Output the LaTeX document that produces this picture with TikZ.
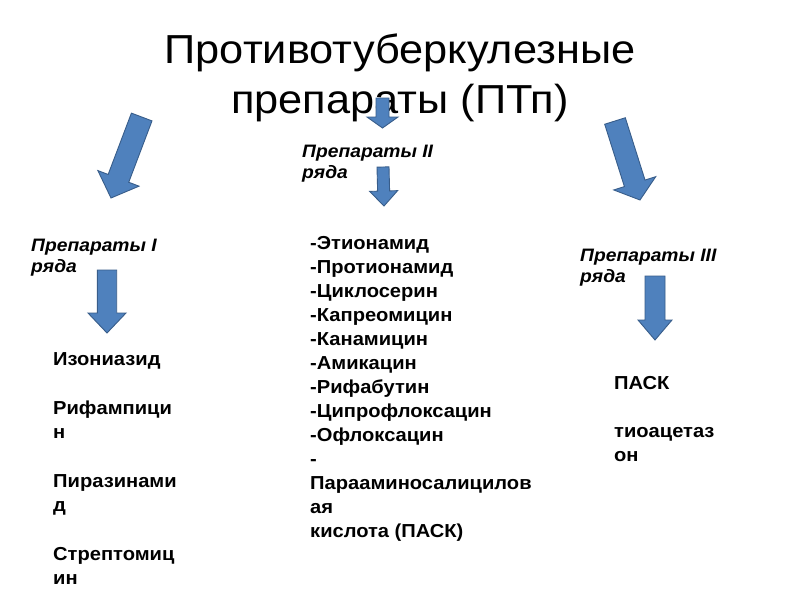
\documentclass[tikz,border=0pt]{standalone}
\usepackage{fontspec}
\setmainfont{Liberation Sans}[FakeStretch=1.07]
\usetikzlibrary{calc}
\definecolor{arrfill}{HTML}{4F81BD}
\definecolor{arrline}{HTML}{385D8A}
\newcommand\blkarrow[6]{%
  \coordinate (#6t) at #1;
  \coordinate (#6p) at #2;
  \coordinate (#6h) at ($(#6p)!#5!(#6t)$);
  \draw[blk] ($(#6t)!#3!90:(#6p)$) -- ($(#6h)!#3!90:(#6p)$) -- ($(#6h)!#4!90:(#6p)$)
    -- (#6p) -- ($(#6h)!#4!-90:(#6p)$) -- ($(#6h)!#3!-90:(#6p)$) -- ($(#6t)!#3!-90:(#6p)$) -- cycle;
}
\begin{document}
\begin{tikzpicture}[x=1pt,y=-1pt,
  blk/.style={fill=arrfill,draw=arrline,line width=0.9pt,line join=miter},
  ttl/.style={inner sep=0pt,anchor=base,font=\fontsize{40.5}{42}\selectfont},
  lbl/.style={inner sep=0pt,anchor=base west,font=\bfseries\itshape\fontsize{18}{20}\selectfont},
  item/.style={inner sep=0pt,anchor=base west,font=\bfseries\fontsize{18.8}{24}\selectfont}]
\useasboundingbox (0,0) rectangle (800,600);
\fill[white] (0,0) rectangle (800,600);
% title
\node[ttl] (t1) at (400,63) {Противотуберкулезные};
\node[ttl] (t2) at (400,113) {препараты (ПТп)};
% labels
\node[lbl] (l1a) at (31,251) {Препараты I};
\node[lbl] (l1b) at (31,272) {ряда};
\node[lbl] (l2a) at (302,157) {Препараты II};
\node[lbl] (l2b) at (302,178) {ряда};
\node[lbl] (l3a) at (580,261) {Препараты III};
\node[lbl] (l3b) at (580,282) {ряда};
% left list
\foreach \t/\yy [count=\i] in {Изониазид/365, Рифампици/414, н/438, Пиразинами/487, д/511, Стрептомиц/560, ин/584}
  \node[item] (left\i) at (53,\yy) {\t};
% middle list
\foreach \t [count=\i] in {-Этионамид,-Протионамид,-Циклосерин,-Капреомицин,-Канамицин,-Амикацин,-Рифабутин,-Ципрофлоксацин,-Офлоксацин,-,Парааминосалицилов,ая,{кислота (ПАСК)}}
  \node[item] (mid\i) at (310,{249+24*(\i-1)}) {\t};
% right list
\node[item] (r1) at (614,389) {ПАСК};
\node[item] (r2) at (614,437) {тиоацетаз};
\node[item] (r3) at (614,461) {он};
% arrows
\blkarrow{(141.7,117)}{(111,198)}{11pt}{22pt}{21pt}{a1}
\blkarrow{(382.5,98)}{(382.5,128)}{6.5pt}{15.5pt}{11pt}{a2}
\blkarrow{(383,167)}{(384,206)}{6pt}{14pt}{15pt}{a3}
\blkarrow{(615,121)}{(640,200)}{10.8pt}{22pt}{17.5pt}{a4}
\blkarrow{(107,270)}{(107,333)}{9.7pt}{19pt}{20pt}{a5}
\blkarrow{(655,276)}{(655,340)}{10pt}{17pt}{20pt}{a6}
\end{tikzpicture}
\end{document}
